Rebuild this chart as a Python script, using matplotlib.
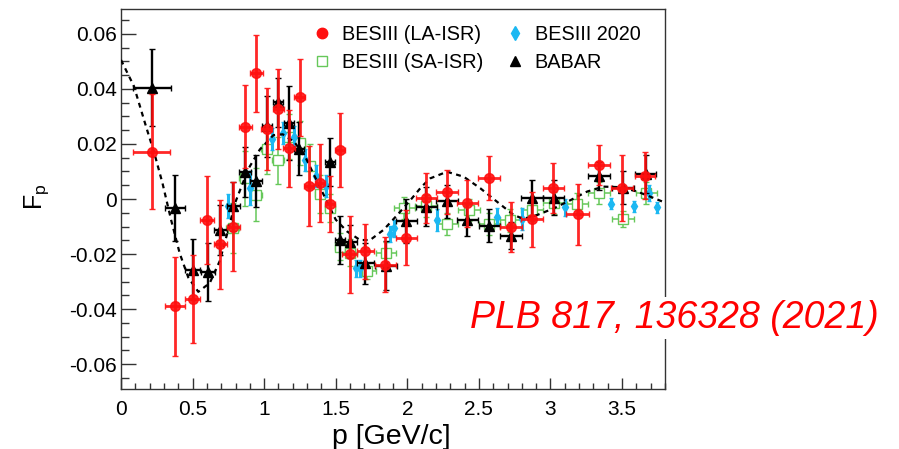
import matplotlib
matplotlib.use("Agg")
import matplotlib.pyplot as plt
from matplotlib.lines import Line2D
from matplotlib.ticker import MultipleLocator, FuncFormatter

plt.rcParams['font.family'] = ['Liberation Sans', 'DejaVu Sans']
plt.rcParams['mathtext.default'] = 'regular'

# BESIII (LA-ISR)
la_x = [0.215, 0.38, 0.50, 0.60, 0.695, 0.785, 0.867, 0.944, 1.017, 1.10, 1.175,
        1.247, 1.315, 1.388, 1.457, 1.527, 1.597, 1.706, 1.846, 1.993, 2.133,
        2.277, 2.42, 2.57, 2.725, 2.87, 3.02, 3.19, 3.34, 3.50, 3.66]
la_y = [0.0172, -0.0389, -0.0364, -0.0076, -0.0165, -0.0100, 0.0263, 0.0457, 0.0255,
        0.0326, 0.0184, 0.0370, 0.0047, 0.0058, -0.0018, 0.0178, -0.0200, -0.0190,
        -0.0238, -0.0140, 0.0003, 0.0027, -0.0016, 0.0078, -0.0101, -0.0074,
        0.0039, -0.0056, 0.0124, 0.0039, 0.0084]
la_yerr = [0.021, 0.018, 0.016, 0.016, 0.016, 0.016, 0.015, 0.014, 0.015, 0.0145, 0.014,
           0.014, 0.0145, 0.014, 0.010, 0.0134, 0.014, 0.010, 0.010, 0.010, 0.009,
           0.008, 0.0085, 0.008, 0.009, 0.010, 0.009, 0.011, 0.0073, 0.012, 0.0085]
la_xerr = [0.13, 0.07, 0.055, 0.047, 0.045, 0.045, 0.045, 0.045, 0.04, 0.04, 0.04,
           0.04, 0.035, 0.035, 0.035, 0.035, 0.05, 0.06, 0.075, 0.075, 0.075,
           0.075, 0.075, 0.075, 0.075, 0.075, 0.075, 0.08, 0.075, 0.08, 0.07]

# BESIII (SA-ISR)
sa_x = [0.78, 0.863, 0.944, 1.017, 1.098, 1.177, 1.25, 1.318, 1.387, 1.46, 1.527,
        1.597, 1.72, 1.85, 1.98, 2.13, 2.28, 2.43, 2.573, 2.72, 2.87, 3.023, 3.187,
        3.34, 3.506, 3.67]
sa_y = [-0.0105, 0.0075, 0.0016, 0.0180, 0.0140, 0.0227, 0.0205, 0.0121, 0.0019,
        -0.0033, -0.0173, -0.0195, -0.0262, -0.0195, -0.0033, -0.0027, -0.0091,
        -0.0039, -0.0089, -0.0078, -0.0039, -0.0016, -0.0017, 0.0021, -0.0073, 0.0022]
sa_yerr = [0.009, 0.010, 0.0095, 0.009, 0.0087, 0.008, 0.008, 0.008, 0.007, 0.005,
           0.005, 0.005, 0.003, 0.004, 0.004, 0.004, 0.004, 0.004, 0.004, 0.004,
           0.004, 0.004, 0.004, 0.004, 0.003, 0.004]
sa_xerr = [0.045, 0.04, 0.04, 0.04, 0.04, 0.035, 0.035, 0.035, 0.035, 0.035, 0.035,
           0.05, 0.06, 0.07, 0.075, 0.075, 0.075, 0.075, 0.075, 0.075, 0.075, 0.075,
           0.075, 0.075, 0.075, 0.075]

# BESIII 2020
b20_x = [0.745, 0.90, 1.055, 1.135, 1.208, 1.285, 1.36, 1.435, 1.64, 1.67, 1.877,
         1.91, 2.21, 2.627, 2.80, 3.105, 3.42, 3.585, 3.687, 3.746]
b20_y = [-0.0025, 0.0040, 0.0218, 0.0240, 0.0224, 0.0142, 0.0085, 0.0048, -0.0252,
         -0.0252, -0.0127, -0.0107, -0.0076, -0.0064, -0.0072, -0.0030, -0.0018,
         -0.0026, 0.0021, -0.0030]
b20_yerr = [0.0045, 0.006, 0.004, 0.004, 0.004, 0.004, 0.004, 0.004, 0.003, 0.003,
            0.003, 0.003, 0.004, 0.003, 0.004, 0.003, 0.002, 0.002, 0.003, 0.002]

# BABAR
bb_x = [0.217, 0.38, 0.50, 0.606, 0.695, 0.785, 0.867, 0.944, 1.02, 1.095, 1.172,
        1.245, 1.457, 1.527, 1.597, 1.706, 1.85, 1.993, 2.133, 2.277, 2.42, 2.573,
        2.725, 2.872, 3.023, 3.338, 3.506, 3.664]
bb_y = [0.0405, -0.0034, -0.0256, -0.0264, -0.0113, -0.0027, 0.0098, 0.0066, 0.0264,
        0.0351, 0.0275, 0.0183, 0.0135, -0.0148, -0.0155, -0.0234, -0.0242, -0.0081,
        -0.0028, -0.0009, -0.0076, -0.0097, -0.0133, 0.0004, 0.0005, 0.0084, 0.0041,
        0.0091]
bb_yerr = [0.014, 0.012, 0.011, 0.0106, 0.009, 0.009, 0.009, 0.0095, 0.011, 0.009,
           0.0135, 0.0097, 0.0087, 0.0088, 0.006, 0.0076, 0.009, 0.008, 0.007, 0.006,
           0.006, 0.006, 0.005, 0.0064, 0.0064, 0.005, 0.006, 0.007]
bb_xerr = [0.13, 0.07, 0.05, 0.05, 0.045, 0.045, 0.04, 0.04, 0.035, 0.035, 0.035,
           0.035, 0.035, 0.035, 0.05, 0.06, 0.075, 0.075, 0.075, 0.075, 0.075, 0.075,
           0.075, 0.075, 0.075, 0.075, 0.075, 0.075]

# fitted oscillation
fit_x = [0.00, 0.09, 0.175, 0.233, 0.29, 0.35, 0.41, 0.47, 0.54, 0.62, 0.69, 0.75,
         0.80, 0.89, 0.97, 1.065, 1.13, 1.21, 1.29, 1.36, 1.43, 1.50, 1.58, 1.67,
         1.74, 1.834, 1.93, 2.02, 2.10, 2.16, 2.277, 2.394, 2.51, 2.627, 2.743, 2.81,
         2.907, 3.023, 3.14, 3.256, 3.37, 3.49, 3.606, 3.70, 3.80]
fit_y = [0.0505, 0.041, 0.0263, 0.0166, 0.0057, -0.0076, -0.0197, -0.0285, -0.0337,
         -0.0305, -0.0225, -0.011, -0.001, 0.011, 0.018, 0.0232, 0.0235, 0.0208,
         0.015, 0.0075, 0.0, -0.0075, -0.0118, -0.0149, -0.0149, -0.0112, -0.0058,
         -0.0005, 0.0045, 0.0075, 0.0099, 0.0081, 0.0039, -0.001, -0.0058, -0.0072,
         -0.0058, -0.0034, -0.0004, 0.0027, 0.0045, 0.0043, 0.0027, 0.0008, -0.0013]

RED = '#ff1010'
GREEN = '#66c85a'
CYAN = '#1cb8f2'
AXC = '#333333'

fig = plt.figure(figsize=(8.99, 4.49), dpi=100)
ax = fig.add_axes([0.1346, 0.1336, 0.6051, 0.8463])

ax.errorbar(sa_x, sa_y, xerr=sa_xerr, yerr=sa_yerr, fmt='s', ms=6.5, mfc='white',
            mec=GREEN, mew=1.0, ecolor=GREEN, elinewidth=1.1, capsize=2, zorder=2)
ax.errorbar(b20_x, b20_y, yerr=b20_yerr, fmt='d', ms=5.5, color=CYAN,
            elinewidth=2.2, capsize=1.5, zorder=3)
ax.plot(fit_x, fit_y, color='k', lw=1.6, dashes=(2.2, 2.0), zorder=4)
ax.errorbar(bb_x, bb_y, xerr=bb_xerr, yerr=bb_yerr, fmt='^', ms=6.5, color='k',
            elinewidth=1.7, capsize=2, zorder=5)
ax.errorbar(la_x, la_y, xerr=la_xerr, yerr=la_yerr, fmt='o', ms=7, color=RED,
            elinewidth=2.0, capsize=2, alpha=0.9, zorder=6)

ax.set_xlim(0, 3.8)
ax.set_ylim(-0.069, 0.069)

ax.xaxis.set_major_locator(MultipleLocator(0.5))
ax.xaxis.set_minor_locator(MultipleLocator(0.1))
ax.yaxis.set_major_locator(MultipleLocator(0.02))
ax.yaxis.set_minor_locator(MultipleLocator(0.005))
fmt = FuncFormatter(lambda v, p: '%g' % round(v, 4))
ax.xaxis.set_major_formatter(fmt)
ax.yaxis.set_major_formatter(fmt)

ax.tick_params(axis='both', which='both', direction='in', colors=AXC,
               labelcolor='black', labelsize=15, top=False, right=False)
ax.tick_params(axis='y', which='major', length=11, width=1, pad=3)
ax.tick_params(axis='y', which='minor', length=6, width=1)
ax.tick_params(axis='x', which='major', length=8, width=1, pad=8)
ax.tick_params(axis='x', which='minor', length=4, width=1)
for s in ax.spines.values():
    s.set_color(AXC)
    s.set_linewidth(1.0)

ax.set_xlabel('p [GeV/c]', fontsize=20.5)
ax.xaxis.set_label_coords(0.497, -0.093)
ax.set_ylabel('F$_p$', fontsize=18)
ax.yaxis.set_label_coords(-0.128, 0.505)

handles = [
    Line2D([], [], ls='none', marker='o', ms=7.5, color=RED),
    Line2D([], [], ls='none', marker='s', ms=7.5, mfc='none', mec=GREEN, mew=1.0),
    Line2D([], [], ls='none', marker='d', ms=7, color=CYAN),
    Line2D([], [], ls='none', marker='^', ms=7, color='k'),
]
labels = ['BESIII (LA-ISR)', 'BESIII (SA-ISR)', 'BESIII 2020', 'BABAR']
ax.legend(handles, labels, ncol=2, frameon=False, fontsize=14.3,
          loc='upper left', bbox_to_anchor=(312 / 899, 1 - 25 / 449),
          bbox_transform=fig.transFigure, borderpad=0, borderaxespad=0,
          handlelength=1.0, handletextpad=0.5, columnspacing=1.1,
          labelspacing=0.45)

fig.text(470 / 899, 1 - 318 / 449, 'PLB 817, 136328 (2021)', color='#ff0000',
         fontsize=27, style='italic', ha='left', va='center',
         bbox=dict(boxstyle='square,pad=0.08', fc='white', ec='none'))

fig.savefig('out.png', dpi=100)
